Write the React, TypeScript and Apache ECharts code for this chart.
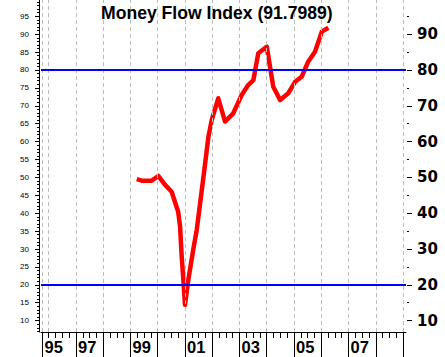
import React, { useEffect, useRef } from "react";
import * as echarts from "echarts";

// Money Flow Index readings (decimal year, value)
const mfiDates = [
  1999.23, 1999.41, 1999.78, 2000.02, 2000.27, 2000.51, 2000.63, 2000.75, 2000.82,
  2000.88, 2000.94, 2001.0, 2001.12, 2001.3, 2001.43, 2001.71, 2001.86, 2001.98,
  2002.22, 2002.47, 2002.77, 2003.08, 2003.32, 2003.51, 2003.69, 2004.0, 2004.24,
  2004.49, 2004.79, 2005.04, 2005.28, 2005.52, 2005.77, 2006.02, 2006.26,
];
const mfiValues = [
  49.5, 49.1, 49.1, 50.4, 47.9, 46.0, 43.2, 40.4, 36.2,
  27.8, 21.3, 14.4, 21.3, 29.7, 35.3, 52.1, 61.4, 66.0,
  72.1, 65.6, 67.9, 73.0, 75.8, 77.2, 84.7, 86.5, 75.3,
  71.6, 73.5, 76.7, 78.1, 82.3, 85.1, 90.7, 91.8,
];

const levelLines = [20, 80];

const xMin = 1995.716;
const xMax = 2009.11;
const yMin = 6.82;
const yMax = 99.55;

const yearLabels = [1995.77, 1997, 1999, 2001, 2003, 2005, 2007];
const yearTicks = [1995.77, 1997, 1998, 1999, 2000, 2001, 2002, 2003, 2004, 2005, 2006, 2007, 2008, 2009];
const gridYears = [1995.77, 1996, 1997, 1998, 1999, 2000, 2001, 2002, 2003, 2004, 2005, 2006, 2007, 2008, 2009];
const leftLabels = [10, 15, 20, 25, 30, 35, 40, 45, 50, 55, 60, 65, 70, 75, 80, 85, 90, 95];
const rightLabels = [10, 20, 30, 40, 50, 60, 70, 80, 90];
const rightMinorTicks = [15, 25, 35, 45, 55, 65, 75, 85, 95];

const quarterTicks: number[] = [];
for (let y = 1996; y <= 2009; y++) {
  [0, 0.25, 0.5, 0.75].forEach((q) => {
    const v = y + q;
    if (v > xMin && v < xMax && !yearTicks.includes(v)) quarterTicks.push(v);
  });
}
const leftMinorTicks: number[] = [];
for (let v = 7; v <= 99; v++) leftMinorTicks.push(v);

export default function App() {
  const ref = useRef<HTMLDivElement>(null);
  useEffect(() => {
    if (!ref.current) return;
    const chart = echarts.init(ref.current, null, { renderer: "svg" });
    const black = "#000";
    const option: any = {
      animation: false,
      backgroundColor: "#fff",
      title: {
        text: "Money Flow Index (91.7989)",
        left: 101,
        top: 4,
        padding: 0,
        textStyle: { fontFamily: "Liberation Sans", fontWeight: "bold", fontSize: 17.6, color: black },
      },
      grid: { left: 41, right: 39, top: 0, bottom: 25, containLabel: false },
      xAxis: [
        {
          type: "value",
          min: xMin,
          max: xMax,
          position: "bottom",
          axisLine: { show: true, onZero: false, lineStyle: { color: black, width: 1 } },
          axisTick: { show: true, customValues: yearTicks, length: 25, lineStyle: { color: black } },
          axisLabel: {
            show: true,
            customValues: yearLabels,
            formatter: (v: number) => String(Math.floor(v) % 100).padStart(2, "0"),
            align: "left",
            verticalAlign: "middle",
            margin: 15,
            padding: [0, 0, 0, 2],
            fontFamily: "Liberation Sans",
            fontWeight: "bold",
            fontSize: 16.5,
            color: black,
          },
          splitLine: { show: false },
        },
        {
          type: "value",
          min: xMin,
          max: xMax,
          position: "bottom",
          axisLine: { show: false, onZero: false },
          axisTick: { show: true, customValues: quarterTicks, length: 6, lineStyle: { color: black } },
          axisLabel: { show: false },
          splitLine: { show: false },
        },
      ],
      yAxis: [
        {
          type: "value",
          min: yMin,
          max: yMax,
          position: "left",
          offset: 2,
          axisLine: { show: true, lineStyle: { color: black } },
          axisTick: { show: true, customValues: leftLabels, length: 4, lineStyle: { color: black } },
          axisLabel: {
            show: true,
            customValues: leftLabels,
            margin: 10,
            fontFamily: "Liberation Sans",
            fontSize: 8,
            color: black,
          },
          splitLine: { show: false },
        },
        {
          type: "value",
          min: yMin,
          max: yMax,
          position: "left",
          offset: 2,
          axisLine: { show: false },
          axisTick: { show: true, customValues: leftMinorTicks, length: 2, lineStyle: { color: black } },
          axisLabel: { show: false },
          splitLine: { show: false },
        },
        {
          type: "value",
          min: yMin,
          max: yMax,
          position: "right",
          offset: 1,
          axisLine: { show: false },
          axisTick: { show: true, customValues: rightLabels, length: 5, lineStyle: { color: black } },
          axisLabel: {
            show: true,
            customValues: rightLabels,
            margin: 10,
            fontFamily: "DejaVu Sans",
            fontWeight: "bold",
            fontSize: 15,
            color: black,
          },
          splitLine: { show: false },
        },
        {
          type: "value",
          min: yMin,
          max: yMax,
          position: "right",
          offset: 1,
          axisLine: { show: false },
          axisTick: { show: true, customValues: rightMinorTicks, length: 2, lineStyle: { color: black } },
          axisLabel: { show: false },
          splitLine: { show: false },
        },
      ],
      series: [
        {
          type: "line",
          data: [],
          z: 1,
          silent: true,
          markLine: {
            silent: true,
            symbol: ["none", "none"],
            label: { show: false },
            emphasis: { disabled: true },
            lineStyle: { color: "#bdbdbd", type: [4, 3], width: 1 },
            data: gridYears.map((v) => ({ xAxis: v })),
          },
        },
        {
          type: "line",
          data: [],
          z: 2,
          silent: true,
          markLine: {
            silent: true,
            symbol: ["none", "none"],
            label: { show: false },
            emphasis: { disabled: true },
            lineStyle: { color: "#0000ff", type: "solid", width: 2 },
            data: levelLines.map((v) => ({ yAxis: v })),
          },
        },
        {
          type: "line",
          z: 3,
          data: mfiDates.map((d, i) => [d, mfiValues[i]]),
          showSymbol: false,
          symbol: "none",
          lineStyle: { color: "#ff0000", width: 4.5, join: "round" },
          emphasis: { disabled: true },
        },
      ],
    };
    chart.setOption(option);
    return () => chart.dispose();
  }, []);
  return (
    <div
      ref={ref}
      style={{ position: "fixed", left: 0, top: 0, width: 445, height: 357, background: "#fff" }}
    />
  );
}
